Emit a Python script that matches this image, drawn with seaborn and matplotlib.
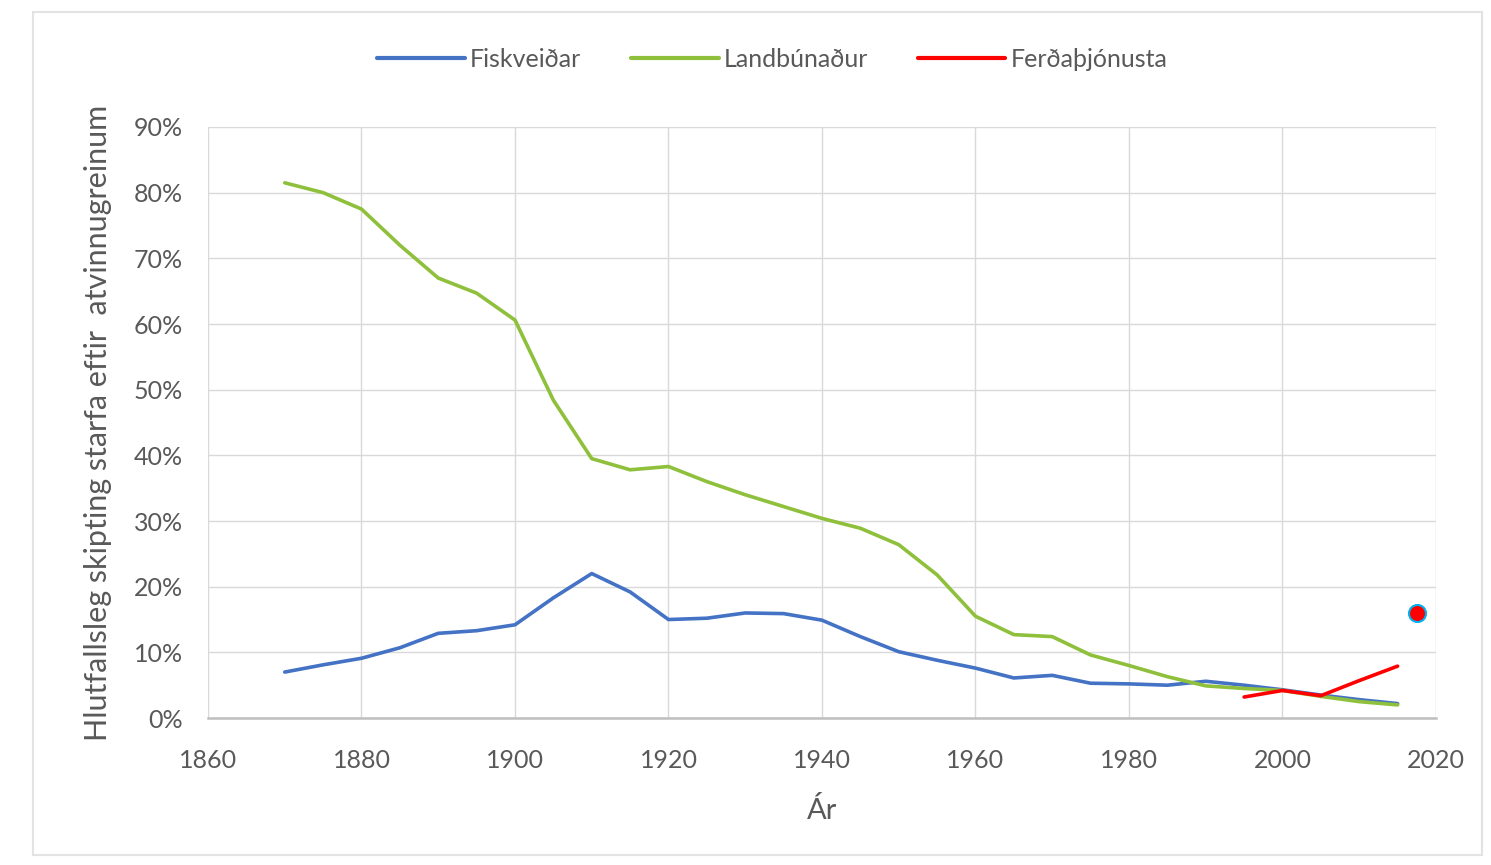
import pandas as pd
import seaborn as sns
import matplotlib.pyplot as plt
from matplotlib.patches import Rectangle
from matplotlib.ticker import FuncFormatter

# Values (percent)
ar = [1870, 1875, 1880, 1885, 1890, 1895, 1900, 1905, 1910, 1915, 1920,
      1925, 1930, 1935, 1940, 1945, 1950, 1955, 1960, 1965, 1970, 1975,
      1980, 1985, 1990, 1995, 2000, 2005, 2010, 2015]
fiskveidar = [7.0, 8.1, 9.1, 10.7, 12.9, 13.3, 14.2, 18.3, 22.0, 19.2, 15.0,
              15.2, 16.0, 15.9, 14.9, 12.4, 10.1, 8.8, 7.6, 6.1, 6.5, 5.3,
              5.2, 5.0, 5.6, 5.0, 4.3, 3.5, 2.8, 2.2]
landbunadur = [81.5, 80.0, 77.5, 72.0, 67.0, 64.7, 60.6, 48.4, 39.5, 37.8, 38.3,
               36.0, 34.0, 32.2, 30.4, 28.9, 26.4, 21.8, 15.5, 12.7, 12.4, 9.6,
               8.0, 6.3, 4.9, 4.5, 4.2, 3.3, 2.5, 2.0]
ar_ferda = [1995, 2000, 2005, 2010, 2015]
ferdathjonusta = [3.2, 4.2, 3.4, 5.7, 7.9]
stakt_ar = [2017.5]
stakt_gildi = [16.0]

series = ["Fiskveiðar", "Landbúnaður", "Ferðaþjónusta"]
litir = ["#4472c4", "#8fc03c", "#ff0000"]

df = pd.concat([
    pd.DataFrame({"Ár": ar, "gildi": fiskveidar, "flokkur": series[0]}),
    pd.DataFrame({"Ár": ar, "gildi": landbunadur, "flokkur": series[1]}),
    pd.DataFrame({"Ár": ar_ferda, "gildi": ferdathjonusta, "flokkur": series[2]}),
])

sns.set_style("white")
plt.rcParams["font.family"] = ["Lato", "DejaVu Sans"]
grey = "#595959"

fig = plt.figure(figsize=(14.91, 8.65), dpi=100)
ax = fig.add_axes([0.1395, 0.1699, 0.8236, 0.6833])

sns.lineplot(data=df, x="Ár", y="gildi", hue="flokkur", hue_order=series,
             palette=litir, linewidth=2.6, ax=ax, legend=False,
             solid_joinstyle="round", solid_capstyle="round")
sns.scatterplot(x=stakt_ar, y=stakt_gildi, color="#ff0000", edgecolor="#00b0f0",
                linewidth=1.5, s=150, ax=ax, zorder=5)

ax.set_xlim(1860, 2020)
ax.set_ylim(0, 90)
ax.set_xticks(range(1860, 2021, 20))
ax.set_yticks(range(0, 91, 10))
ax.yaxis.set_major_formatter(FuncFormatter(lambda v, p: f"{v:.0f}%"))
ax.grid(True, color="#d9d9d9", linewidth=1)
for s in ["top", "right", "left"]:
    ax.spines[s].set_visible(False)
ax.spines["bottom"].set_color("#bfbfbf")
ax.spines["bottom"].set_linewidth(1.8)
ax.tick_params(axis="both", length=0, labelsize=18, labelcolor=grey)
ax.tick_params(axis="x", pad=22)
ax.tick_params(axis="y", pad=18)

ax.set_xlabel("Ár", fontsize=21, color=grey, labelpad=18)
ax.set_ylabel("Hlutfallsleg skipting starfa eftir  atvinnugreinum",
              fontsize=22, color=grey, labelpad=16)

handles = [plt.Line2D([], [], color=c, linewidth=3) for c in litir]
fig.legend(handles, series, loc="center", bbox_to_anchor=(0.518, 0.931), ncol=3,
           frameon=False, fontsize=18, labelcolor=grey, handlelength=3.5,
           handletextpad=0.2, columnspacing=2.0)

fig.patches.append(Rectangle((0.022, 0.012), 0.972, 0.974, transform=fig.transFigure,
                             fill=False, edgecolor="#e3e3e3", linewidth=1.5))

plt.savefig("out.png", dpi=100)
plt.close()
